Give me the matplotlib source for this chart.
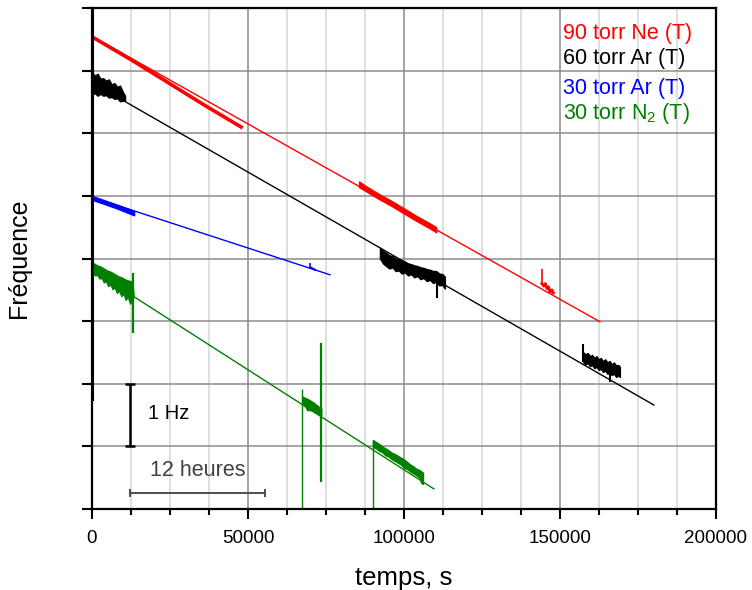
"""Frequency drift vs time for several gas fillings."""

import matplotlib

matplotlib.use("Agg")
import matplotlib.pyplot as plt
from matplotlib.ticker import MultipleLocator, NullFormatter

plt.rcParams["font.family"] = ["Liberation Sans", "DejaVu Sans"]
plt.rcParams["mathtext.fontset"] = "custom"
plt.rcParams["mathtext.rm"] = "Liberation Sans"
plt.rcParams["mathtext.it"] = "Liberation Sans:italic"

# --- data (time in s, frequency in Hz, arbitrary offset) ---
# fitted drift lines
red_fit_t = [0, 162800]
red_fit_f = [7.55, 2.99]
black_fit_t = [0, 180100]
black_fit_f = [6.81, 1.66]
blue_fit_t = [0, 76300]
blue_fit_f = [4.98, 3.74]
green_fit_t = [0, 109600]
green_fit_f = [3.82, 0.32]

# measured runs: noise bands as (time, upper edge, lower edge)
red_s1_t = [0, 12000, 23400, 36000, 47800]
red_s1_f = [7.54, 7.19, 6.84, 6.45, 6.10]
red_s2_t = [85600, 88000, 92000, 96000, 100000, 104000, 108000, 110300]
red_s2_top = [5.23, 5.15, 5.03, 4.92, 4.80, 4.68, 4.57, 4.50]
red_s2_bot = [5.14, 5.07, 4.95, 4.84, 4.72, 4.60, 4.49, 4.42]
red_s3_t = [144200, 144800, 145300, 145800, 146300, 146800, 147400, 147900]
red_s3_f = [3.60, 3.56, 3.60, 3.52, 3.55, 3.46, 3.50, 3.45]

black_s1_t = [0, 900, 1800, 2700, 3600, 4500, 5400, 6300, 7200, 8100, 9000, 9900, 10600]
black_s1_top = [6.98, 6.92, 6.95, 6.87, 6.88, 6.84, 6.86, 6.78, 6.80, 6.74, 6.76, 6.66, 6.60]
black_s1_bot = [6.62, 6.64, 6.60, 6.63, 6.60, 6.61, 6.57, 6.58, 6.55, 6.56, 6.51, 6.52, 6.52]
black_s2_t = [92300, 93300, 94300, 95300, 96300, 97300, 98300, 99300, 100300, 101300,
              102300, 103300, 104300, 105300, 106300, 107300, 108300, 109300, 110300,
              111300, 112300, 113100]
black_s2_top = [4.17, 4.12, 4.09, 4.05, 4.04, 4.00, 3.99, 3.96, 3.95, 3.92, 3.91,
                3.89, 3.88, 3.86, 3.85, 3.83, 3.82, 3.80, 3.80, 3.76, 3.75, 3.71]
black_s2_bot = [4.00, 3.92, 3.88, 3.84, 3.86, 3.80, 3.81, 3.76, 3.78, 3.73, 3.75,
                3.70, 3.72, 3.67, 3.69, 3.64, 3.66, 3.61, 3.63, 3.57, 3.58, 3.52]
black_s3_t = [157500, 158200, 158900, 159600, 160300, 161000, 161700, 162400, 163100,
              163800, 164500, 165200, 165900, 166600, 167300, 168000, 168700, 169200]
black_s3_top = [2.50, 2.47, 2.49, 2.44, 2.46, 2.41, 2.44, 2.39, 2.41,
                2.36, 2.39, 2.34, 2.36, 2.31, 2.34, 2.29, 2.30, 2.27]
black_s3_bot = [2.34, 2.31, 2.33, 2.28, 2.30, 2.25, 2.27, 2.22, 2.24,
                2.19, 2.21, 2.16, 2.18, 2.14, 2.16, 2.11, 2.13, 2.11]

blue_s1_t = [0, 4000, 8000, 13500]
blue_s1_top = [5.00, 4.93, 4.86, 4.76]
blue_s1_bot = [4.94, 4.87, 4.80, 4.69]
blue_s2_t = [70300, 71500]
blue_s2_f = [3.85, 3.82]

green_s1_t = [0, 300, 1000, 1700, 2400, 3100, 3800, 4500, 5200, 5900, 6600, 7300,
              8000, 8700, 9400, 10100, 10800, 11500, 12200, 12900, 13300]
green_s1_top = [3.93, 3.93, 3.91, 3.89, 3.88, 3.86, 3.84, 3.82, 3.80, 3.79, 3.77, 3.75,
                3.73, 3.71, 3.70, 3.68, 3.66, 3.65, 3.64, 3.62, 3.45]
green_s1_bot = [3.77, 3.77, 3.73, 3.74, 3.68, 3.69, 3.62, 3.64, 3.56, 3.59, 3.51, 3.54,
                3.45, 3.49, 3.40, 3.44, 3.34, 3.39, 3.28, 3.33, 3.40]
green_s2_t = [67350, 68000, 69000, 70000, 71000, 72000, 73000, 73500]
green_s2_top = [1.80, 1.78, 1.76, 1.73, 1.70, 1.66, 1.62, 1.60]
green_s2_bot = [1.70, 1.67, 1.58, 1.58, 1.56, 1.53, 1.50, 1.50]
green_s3_t = [90050, 91000, 92000, 93000, 94000, 95000, 96000, 97000, 98000, 99000,
              100000, 101000, 102000, 103000, 104000, 105000, 105500, 106100]
green_s3_top = [1.10, 1.07, 1.04, 1.00, 0.97, 0.94, 0.90, 0.88, 0.85, 0.82,
                0.79, 0.75, 0.71, 0.68, 0.64, 0.62, 0.60, 0.58]
green_s3_bot = [0.99, 0.97, 0.93, 0.91, 0.86, 0.84, 0.80, 0.77, 0.74, 0.71,
                0.66, 0.64, 0.60, 0.57, 0.54, 0.50, 0.42, 0.40]

# isolated spikes: time, low, high
red_spike_t = [144150]
red_spike_lo = [3.58]
red_spike_hi = [3.83]
black_spike_t = [250, 110600, 157450, 166000]
black_spike_lo = [1.72, 3.37, 2.34, 2.03]
black_spike_hi = [8.40, 3.78, 2.64, 2.36]
blue_spike_t = [70000]
blue_spike_lo = [3.84]
blue_spike_hi = [3.93]
green_spike_t = [80, 13100, 73400]
green_spike_lo = [3.61, 2.81, 0.43]
green_spike_hi = [4.25, 3.77, 2.65]
green_drop_t = [67300, 90000]
green_drop_f = [1.92, 1.10]

legend_labels = ["90 torr Ne (T)", "60 torr Ar (T)", "30 torr Ar (T)", "30 torr N$_2$ (T)"]
legend_colors = ["#ff0000", "#000000", "#0000ff", "#008000"]
legend_y = [7.59, 7.19, 6.72, 6.31]

x_ticks = [0, 50000, 100000, 150000, 200000]


def band(ax, t, top, bot, color):
    ax.fill_between(t, bot, top, color=color, lw=1.0, edgecolor=color)


fig = plt.figure(figsize=(7.52, 5.9), dpi=100)
ax = fig.add_axes([0.1223, 0.1373, 0.8298, 0.8491])

red, black, blue, green = legend_colors

ax.plot(red_fit_t, red_fit_f, color=red, lw=1.0)
ax.plot(red_s1_t, red_s1_f, color=red, lw=2.6)
band(ax, red_s2_t, red_s2_top, red_s2_bot, red)
ax.plot(red_s3_t, red_s3_f, color=red, lw=2.0)
ax.vlines(red_spike_t, red_spike_lo, red_spike_hi, color=red, lw=1.2)

ax.plot(black_fit_t, black_fit_f, color=black, lw=1.0)
band(ax, black_s1_t, black_s1_top, black_s1_bot, black)
band(ax, black_s2_t, black_s2_top, black_s2_bot, black)
band(ax, black_s3_t, black_s3_top, black_s3_bot, black)
ax.vlines(black_spike_t, black_spike_lo, black_spike_hi, color=black, lw=1.5)

ax.plot(blue_fit_t, blue_fit_f, color=blue, lw=1.0)
band(ax, blue_s1_t, blue_s1_top, blue_s1_bot, blue)
ax.plot(blue_s2_t, blue_s2_f, color=blue, lw=1.5)
ax.vlines(blue_spike_t, blue_spike_lo, blue_spike_hi, color=blue, lw=1.2)

ax.plot(green_fit_t, green_fit_f, color=green, lw=1.0)
band(ax, green_s1_t, green_s1_top, green_s1_bot, green)
band(ax, green_s2_t, green_s2_top, green_s2_bot, green)
band(ax, green_s3_t, green_s3_top, green_s3_bot, green)
ax.vlines(green_spike_t, green_spike_lo, green_spike_hi, color=green, lw=1.6)
ax.vlines(green_drop_t, -0.5, green_drop_f, color=green, lw=1.0)

# scale bars
ax.errorbar([12200], [1.5], yerr=[0.5], color="black", lw=1.8, capsize=3.8, capthick=1.8)
ax.text(17900, 1.52, "1 Hz", fontsize=14.5, ha="left", va="center")
ax.errorbar([33800], [0.26], xerr=[21600], color="#404040", lw=1.3, capsize=2.6, capthick=1.3)
ax.text(33800, 0.62, "12 heures", fontsize=15.5, ha="center", va="center", color="#404040")

for label, color, y in zip(legend_labels, legend_colors, legend_y):
    ax.text(151000, y, label, color=color, fontsize=15.5, ha="left", va="center")

ax.set_xlim(0, 200000)
ax.set_ylim(0, 8)
ax.set_xticks(x_ticks)
ax.xaxis.set_minor_locator(MultipleLocator(12500))
ax.yaxis.set_major_locator(MultipleLocator(1))
ax.yaxis.set_major_formatter(NullFormatter())
ax.grid(True, which="major", color="#8c8c8c", lw=1.1)
ax.grid(True, which="minor", axis="x", color="#d6d6d6", lw=1.1)
ax.set_axisbelow(True)
ax.tick_params(axis="both", which="major", direction="out", length=7, width=1.5,
               labelsize=13.5, pad=8)
ax.tick_params(axis="x", which="minor", direction="out", length=4, width=1.5)
for spine in ax.spines.values():
    spine.set_linewidth(1.6)

ax.set_xlabel("temps, s", fontsize=18.5, labelpad=14)
ax.set_ylabel("Fréquence", fontsize=18)
ax.yaxis.set_label_coords(-0.098, 0.5)

fig.savefig("out.png", dpi=100)
